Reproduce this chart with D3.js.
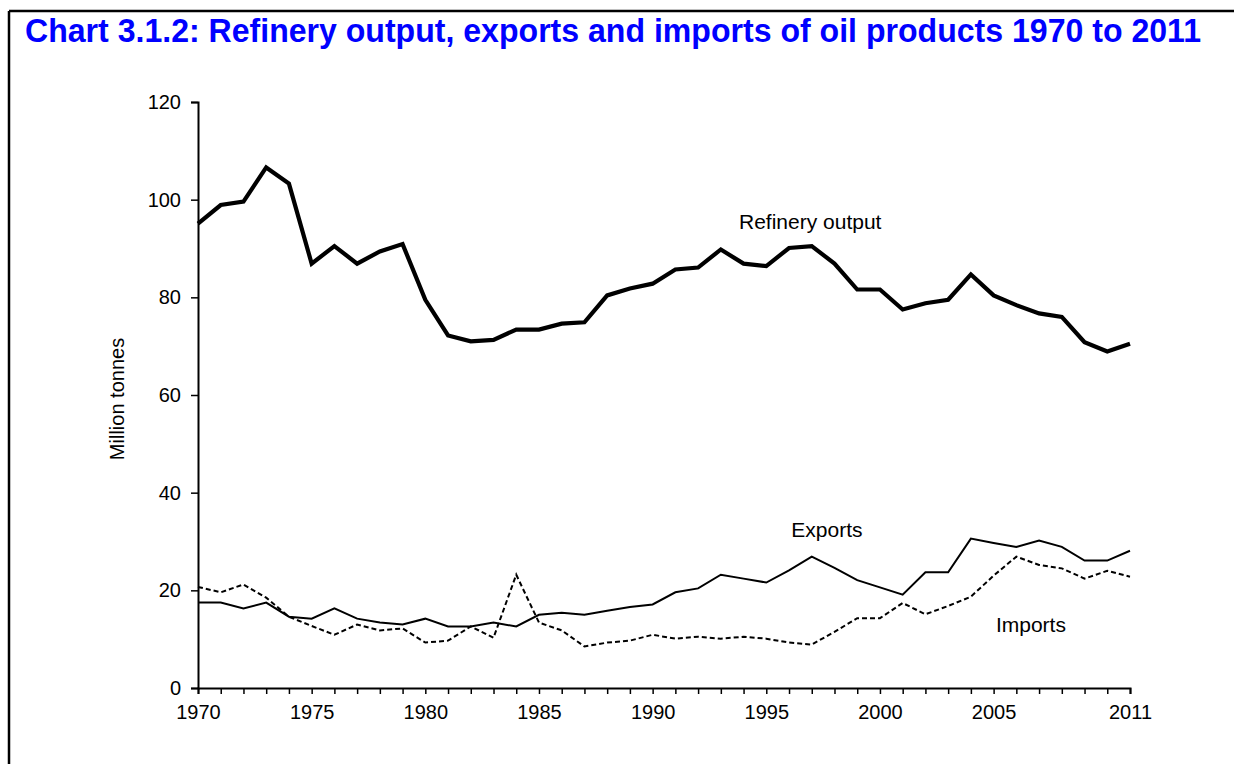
<!DOCTYPE html>
<html>
<head>
<meta charset="utf-8">
<script src="https://cdn.jsdelivr.net/npm/d3@7/dist/d3.min.js"></script>
<style>
  html, body { margin: 0; padding: 0; background: #fff; }
  svg { display: block; }
  text { font-family: Arial, "Liberation Sans", sans-serif; }
</style>
</head>
<body>
<svg id="chart" width="1234" height="764"></svg>
<script>
const years = d3.range(1970, 2012);
const refinery = [95.1, 98.9, 99.6, 106.6, 103.3, 86.9, 90.5, 86.9, 89.4, 90.9,
  79.5, 72.2, 71.0, 71.3, 73.4, 73.4, 74.6, 74.9, 80.4, 81.8,
  82.8, 85.7, 86.1, 89.8, 86.9, 86.4, 90.1, 90.5, 86.9, 81.6,
  81.6, 77.5, 78.8, 79.5, 84.7, 80.4, 78.4, 76.7, 76.0, 70.8,
  68.9, 70.5];
const exportsData = [17.5, 17.5, 16.3, 17.5, 14.6, 14.2, 16.3, 14.2, 13.4, 13.0,
  14.2, 12.6, 12.6, 13.4, 12.6, 15.0, 15.4, 15.0, 15.8, 16.6,
  17.1, 19.6, 20.4, 23.2, 22.4, 21.6, 24.1, 26.9, 24.6, 22.1,
  20.6, 19.1, 23.7, 23.7, 30.6, 29.7, 28.9, 30.2, 28.9, 26.1,
  26.1, 28.1];
const importsData = [20.7, 19.6, 21.2, 18.5, 14.6, 12.7, 10.9, 13.0, 11.8, 12.2,
  9.3, 9.7, 12.6, 10.3, 23.2, 13.4, 11.8, 8.5, 9.3, 9.7,
  10.9, 10.1, 10.5, 10.1, 10.5, 10.1, 9.3, 8.9, 11.5, 14.3,
  14.3, 17.4, 15.1, 16.8, 18.7, 23.0, 26.9, 25.2, 24.5, 22.4,
  24.0, 22.8];
const yTicks = [0, 20, 40, 60, 80, 100, 120];
const xTickLabels = [1970, 1975, 1980, 1985, 1990, 1995, 2000, 2005, 2011];
const titleText = "Chart 3.1.2:  Refinery output, exports and imports of oil products 1970 to 2011";
const yAxisTitle = "Million tonnes";
const seriesLabels = [
  { text: "Refinery output", year: 1993.8, value: 94.0 },
  { text: "Exports", year: 1996.1, value: 31.0 },
  { text: "Imports", year: 2005.1, value: 11.4 }
];

const svg = d3.select("#chart");
const x = d3.scaleLinear().domain([1970, 2011]).range([198, 1130]);
const y = d3.scaleLinear().domain([0, 120]).range([688, 102]);

// frame
svg.append("line").attr("x1", 9).attr("x2", 1234).attr("y1", 11).attr("y2", 11)
  .attr("stroke", "#000").attr("stroke-width", 2.5);
svg.append("line").attr("x1", 9).attr("x2", 9).attr("y1", 11).attr("y2", 764)
  .attr("stroke", "#000").attr("stroke-width", 2.5);

// title
svg.append("text").attr("x", 25).attr("y", 42)
  .attr("fill", "#0000ff").attr("font-weight", "bold").attr("font-size", 33)
  .attr("textLength", 1176).attr("lengthAdjust", "spacingAndGlyphs")
  .text(titleText);

// y axis
const yAxis = d3.axisLeft(y).tickValues(yTicks).tickSize(7).tickPadding(10);
const gy = svg.append("g").attr("transform", `translate(${x(1970)},0)`).call(yAxis);
gy.select(".domain").attr("stroke-width", 2);
gy.selectAll(".tick line").attr("stroke-width", 1.5);
gy.selectAll(".tick text").attr("font-size", 20).attr("fill", "#000")
  .attr("font-family", "Arial, 'Liberation Sans', sans-serif");

// x axis
const xAxis = d3.axisBottom(x).tickValues(years).tickSize(6).tickPadding(11)
  .tickFormat(d => xTickLabels.includes(d) ? String(d) : "");
const gx = svg.append("g").attr("transform", `translate(0,${y(0)})`).call(xAxis);
gx.select(".domain").attr("stroke-width", 2);
gx.selectAll(".tick line").attr("stroke-width", 1.5);
gx.selectAll(".tick text").attr("font-size", 20).attr("fill", "#000")
  .attr("font-family", "Arial, 'Liberation Sans', sans-serif");

// y axis title
svg.append("text")
  .attr("transform", `translate(124,${y(60) + 4}) rotate(-90)`)
  .attr("text-anchor", "middle").attr("font-size", 20).attr("fill", "#000")
  .text(yAxisTitle);

const line = d3.line().x((d, i) => x(years[i])).y(d => y(d));

svg.append("path").datum(refinery).attr("d", line)
  .attr("fill", "none").attr("stroke", "#000").attr("stroke-width", 4.2)
  .attr("stroke-linejoin", "miter");
svg.append("path").datum(exportsData).attr("d", line)
  .attr("fill", "none").attr("stroke", "#000").attr("stroke-width", 2);
svg.append("path").datum(importsData).attr("d", line)
  .attr("fill", "none").attr("stroke", "#000").attr("stroke-width", 2)
  .attr("stroke-dasharray", "5,3");

// series labels
svg.selectAll(".slabel").data(seriesLabels).enter().append("text")
  .attr("class", "slabel")
  .attr("x", d => x(d.year)).attr("y", d => y(d.value))
  .attr("font-size", 21).attr("fill", "#000")
  .text(d => d.text);
</script>
</body>
</html>
